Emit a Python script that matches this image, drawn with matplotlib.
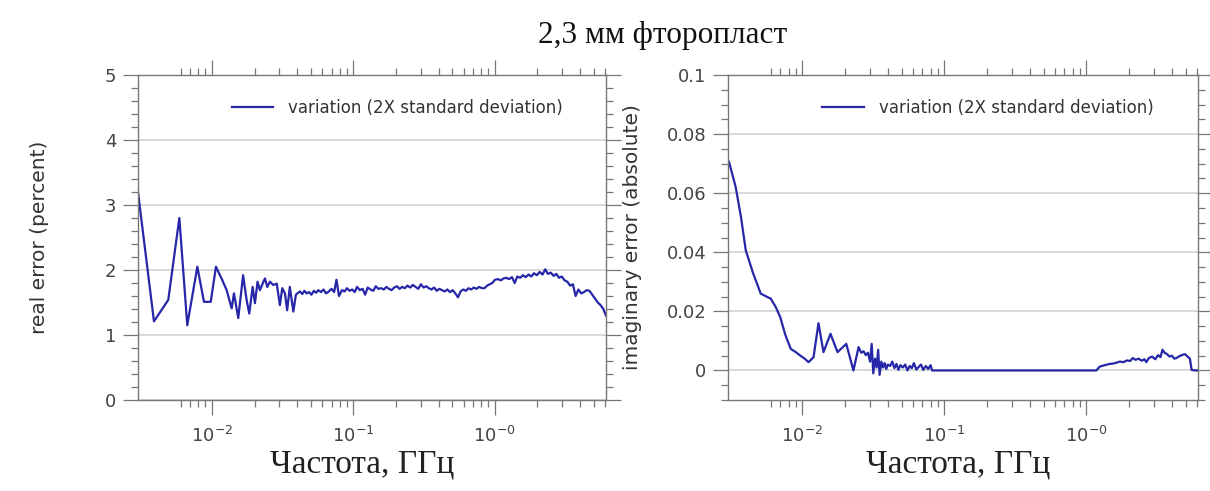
import matplotlib
matplotlib.use('Agg')
import matplotlib.pyplot as plt
from matplotlib.ticker import (FixedLocator, FixedFormatter, MultipleLocator,
                               NullFormatter, FuncFormatter)

# ---------------- data ----------------
title_text = '2,3 мм фторопласт'
xlabel_text = 'Частота, ГГц'
ylabel_real = 'real error (percent)'
ylabel_imag = 'imaginary error (absolute)'
legend_label = 'variation (2X standard deviation)'

xtick_values = [1e-2, 1e-1, 1e0]
xtick_labels = [r'$10^{-2}$', r'$10^{-1}$', r'$10^{-0}$']

# real error (percent) vs frequency (GHz)
real_freq = [
    0.00300, 0.00389, 0.00491, 0.00588, 0.00669, 0.00788, 0.00878, 0.00980, 0.01067, 0.01180,
    0.01270, 0.01378, 0.01431, 0.01534, 0.01660, 0.01757, 0.01835, 0.01939, 0.02013, 0.02100,
    0.02183, 0.02280, 0.02370, 0.02460, 0.02570, 0.02710, 0.02870, 0.03020, 0.03140, 0.03280,
    0.03400, 0.03550, 0.03760, 0.03920,
    0.0418, 0.0435, 0.0450, 0.0467, 0.0485, 0.0505, 0.0525, 0.0545, 0.0565, 0.0590,
    0.0615, 0.0640, 0.0670, 0.0700, 0.0730, 0.0759, 0.0790, 0.0830, 0.0865, 0.0900,
    0.0940, 0.0980, 0.1020, 0.1060, 0.1110, 0.1160, 0.1210, 0.1260, 0.1320, 0.1380,
    0.1440, 0.1500,
    0.157, 0.164, 0.171, 0.178, 0.186, 0.194, 0.203, 0.212, 0.221, 0.231,
    0.241, 0.252, 0.263, 0.275, 0.287, 0.300, 0.313, 0.327, 0.341, 0.356,
    0.372, 0.388, 0.405, 0.423, 0.442, 0.461, 0.482, 0.503, 0.525, 0.548,
    0.572, 0.597, 0.624, 0.651, 0.680, 0.710, 0.741, 0.774, 0.808, 0.844,
    0.881, 0.920, 0.960,
    1.00, 1.05, 1.10, 1.15, 1.20, 1.26, 1.32, 1.38, 1.44, 1.51,
    1.58, 1.65, 1.73, 1.81, 1.89, 1.98, 2.07, 2.17, 2.27, 2.37,
    2.48, 2.60, 2.72, 2.84, 2.97, 3.11, 3.25, 3.40, 3.56, 3.72,
    3.89, 4.07, 4.26, 4.46, 4.66, 4.88, 5.10, 5.34, 5.58, 5.84, 6.10,
]
real_err = [
    3.20, 1.21, 1.54, 2.80, 1.15, 2.05, 1.51, 1.51, 2.05, 1.85,
    1.69, 1.41, 1.64, 1.26, 1.92, 1.54, 1.33, 1.74, 1.49, 1.82,
    1.69, 1.79, 1.87, 1.74, 1.82, 1.77, 1.79, 1.46, 1.72, 1.64,
    1.38, 1.74, 1.36, 1.62,
    1.67, 1.63, 1.68, 1.64, 1.66, 1.62, 1.68, 1.65, 1.69, 1.66,
    1.70, 1.64, 1.67, 1.71, 1.66, 1.85, 1.60, 1.69, 1.67, 1.72,
    1.68, 1.70, 1.66, 1.74, 1.69, 1.71, 1.62, 1.73, 1.70, 1.68,
    1.75, 1.71,
    1.72, 1.70, 1.74, 1.71, 1.69, 1.73, 1.75, 1.71, 1.74, 1.72,
    1.76, 1.73, 1.77, 1.74, 1.71, 1.78, 1.73, 1.75, 1.72, 1.70,
    1.73, 1.68, 1.71, 1.69, 1.67, 1.70, 1.66, 1.69, 1.64, 1.58,
    1.67, 1.70, 1.68, 1.72, 1.70, 1.73, 1.71, 1.74, 1.72, 1.72,
    1.76, 1.78, 1.80,
    1.85, 1.86, 1.84, 1.87, 1.88, 1.86, 1.89, 1.80, 1.90, 1.88,
    1.92, 1.89, 1.93, 1.90, 1.95, 1.92, 1.97, 1.93, 2.01, 1.94,
    1.96, 1.91, 1.94, 1.88, 1.90, 1.84, 1.82, 1.76, 1.78, 1.60,
    1.70, 1.64, 1.66, 1.69, 1.68, 1.62, 1.56, 1.50, 1.46, 1.40, 1.30,
]

# imaginary error (absolute) vs frequency (GHz)
imag_freq = [
    0.00305, 0.00340, 0.00370, 0.00400, 0.00450, 0.00510, 0.00560, 0.00600, 0.00650, 0.00700,
    0.00760, 0.00830, 0.00900, 0.00970, 0.01040, 0.01107, 0.01200, 0.01300, 0.01410, 0.01580,
    0.01770, 0.02040, 0.02290, 0.02490, 0.02600, 0.02700, 0.02800, 0.02900, 0.03000, 0.03080,
    0.03160, 0.03250, 0.03340, 0.03420, 0.03500, 0.03600, 0.03700, 0.03800, 0.03900, 0.04000,
    0.04150, 0.04300, 0.04450, 0.04600, 0.04750, 0.04900, 0.05100, 0.05300, 0.05500, 0.05700,
    0.05900, 0.06100, 0.06350, 0.06600, 0.06850, 0.07100, 0.07400, 0.07700, 0.08000, 0.08200,
    1.175, 1.24, 1.35, 1.45, 1.53, 1.62, 1.72, 1.82, 1.93, 2.03,
    2.12, 2.22, 2.33, 2.45, 2.56, 2.64, 2.75, 2.90, 3.05, 3.20,
    3.32, 3.43, 3.55, 3.70, 3.84, 4.00, 4.15, 4.30, 4.50, 4.75,
    4.95, 5.15, 5.35, 5.50, 5.80, 6.05,
]
imag_err = [
    0.0706, 0.0620, 0.0520, 0.0407, 0.0330, 0.0260, 0.0250, 0.0243, 0.0215, 0.0180,
    0.0120, 0.0073, 0.0062, 0.0050, 0.0040, 0.0028, 0.0045, 0.0160, 0.0062, 0.0124,
    0.0062, 0.0090, 0.0000, 0.0079, 0.0060, 0.0065, 0.0052, 0.0060, 0.0030, 0.0090,
    -0.0010, 0.0040, 0.0010, 0.0070, -0.0015, 0.0030, 0.0010, 0.0025, 0.0005, 0.0020,
    0.0015, 0.0030, 0.0008, 0.0022, 0.0002, 0.0018, 0.0010, 0.0020, 0.0000, 0.0015,
    0.0008, 0.0025, 0.0003, 0.0012, 0.0020, 0.0002, 0.0015, 0.0005, 0.0018, 0.0000,
    0.0000, 0.0013, 0.0018, 0.0022, 0.0023, 0.0026, 0.0030, 0.0028, 0.0034, 0.0032,
    0.0042, 0.0036, 0.0040, 0.0033, 0.0038, 0.0028, 0.0042, 0.0047, 0.0038, 0.0052,
    0.0045, 0.0070, 0.0060, 0.0055, 0.0047, 0.0050, 0.0040, 0.0042, 0.0048, 0.0053,
    0.0055, 0.0047, 0.0040, 0.0002, 0.0000, 0.0000,
]

# ---------------- style ----------------
line_color = '#2626a8'
spine_color = '#777777'
grid_color = '#d6d6d6'
text_gray = '#444444'
sans = ['DejaVu Sans']
serif = ['Liberation Serif', 'DejaVu Serif']

plt.rcParams['font.family'] = sans
plt.rcParams['mathtext.fontset'] = 'dejavusans'

fig = plt.figure(figsize=(12.1, 4.91), dpi=100)
ax1 = fig.add_axes([138 / 1210, 91 / 491, 468 / 1210, 325 / 491])
ax2 = fig.add_axes([728 / 1210, 91 / 491, 470 / 1210, 325 / 491])

minor_x = ([k * 1e-3 for k in range(6, 10)] + [k * 1e-2 for k in range(2, 10)]
           + [k * 1e-1 for k in range(2, 10)] + [k * 1.0 for k in range(2, 7)])


def style_axis(ax, ylim, ymajor, yminor, ylabel, ylabel_x, xlabel_x):
    ax.set_xscale('log')
    ax.set_xlim(3.0e-3, 6.1)
    ax.set_ylim(*ylim)
    ax.xaxis.set_major_locator(FixedLocator(xtick_values))
    ax.xaxis.set_major_formatter(FixedFormatter(xtick_labels))
    ax.xaxis.set_minor_locator(FixedLocator(minor_x))
    ax.xaxis.set_minor_formatter(NullFormatter())
    ax.yaxis.set_major_locator(MultipleLocator(ymajor))
    ax.yaxis.set_minor_locator(MultipleLocator(yminor))
    ax.tick_params(which='both', direction='out', top=True, right=True,
                   color=spine_color, width=0.9, labelcolor=text_gray, labelsize=13)
    ax.tick_params(which='major', length=10.5, pad=5)
    ax.tick_params(which='minor', length=5)
    ax.tick_params(axis='x', which='major', pad=8)
    for sp in ax.spines.values():
        sp.set_color(spine_color)
        sp.set_linewidth(1.0)
    ax.yaxis.grid(True, which='major', color=grid_color, lw=1.3)
    ax.set_axisbelow(True)
    ax.set_ylabel(ylabel, fontsize=14.5, color='#333333')
    ax.yaxis.set_label_coords(ylabel_x, 0.5)
    ax.set_xlabel(xlabel_text, family=serif, fontsize=24, color='#222222')
    ax.xaxis.set_label_coords(xlabel_x, -0.15)
    ax.legend(loc='center left', bbox_to_anchor=(0.2, 0.9), frameon=False,
              fontsize=12, handlelength=2.5, handletextpad=0.9, borderpad=0,
              borderaxespad=0, labelcolor='#333333')


ax1.plot(real_freq, real_err, color=line_color, lw=1.6, label=legend_label)
style_axis(ax1, (0, 5), 1, 0.2, ylabel_real, -0.19, 0.48)
ax1.yaxis.set_major_formatter(FuncFormatter(lambda v, p: '%d' % round(v)))

ax2.plot(imag_freq, imag_err, color=line_color, lw=1.6, label=legend_label)
style_axis(ax2, (-0.01, 0.1), 0.02, 0.005, ylabel_imag, -0.183, 0.49)
ax2.yaxis.set_major_formatter(FuncFormatter(
    lambda v, p: '0' if abs(v) < 1e-9 else ('%g' % round(v, 3))))

fig.text(663 / 1210, 1 - 36 / 491, title_text, family=serif, fontsize=22.5,
         ha='center', va='center', color='#111111')

fig.savefig('out.png', dpi=100, facecolor='white')
